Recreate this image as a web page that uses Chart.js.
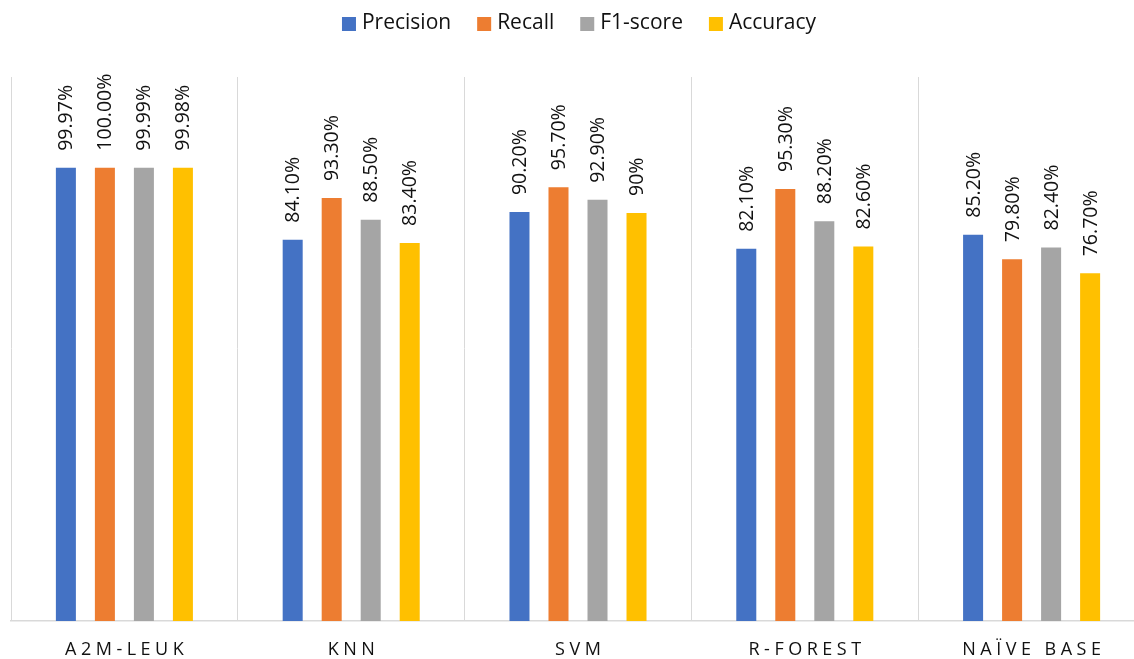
<!DOCTYPE html>
<html>
<head>
<meta charset="utf-8">
<script src="https://cdn.jsdelivr.net/npm/chart.js@4.4.1/dist/chart.umd.min.js"></script>
<style>
  html, body { margin: 0; padding: 0; background: #fff; overflow: hidden; }
  #wrap { position: relative; width: 1146px; height: 659px; }
</style>
</head>
<body>
<div id="wrap"><canvas id="c"></canvas></div>
<script>
// Model comparison: four metrics per classifier, in percent
const models = ['A2M-LEUK', 'KNN', 'SVM', 'R-FOREST', 'NAÏVE BASE'];
const precision = ['99.97', '84.10', '90.20', '82.10', '85.20'];
const recall    = ['100.00', '93.30', '95.70', '95.30', '79.80'];
const f1score   = ['99.99', '88.50', '92.90', '88.20', '82.40'];
const accuracy  = ['99.98', '83.40', '90', '82.60', '76.70'];
const seriesNames  = ['Precision', 'Recall', 'F1-score', 'Accuracy'];
const seriesColors = ['#4472C4', '#ED7D31', '#A5A5A5', '#FFC000'];
const axisMax = 120;

const FONT = '"Open Sans", "Liberation Sans", sans-serif';
const TEXT = '#111111';

// Rotated value labels above each bar
const valueLabels = {
  id: 'valueLabels',
  afterDatasetsDraw(chart) {
    const ctx = chart.ctx;
    ctx.save();
    ctx.font = '19.5px ' + FONT;
    ctx.fillStyle = TEXT;
    ctx.textAlign = 'left';
    ctx.textBaseline = 'middle';
    chart.data.datasets.forEach((ds, i) => {
      chart.getDatasetMeta(i).data.forEach((bar, j) => {
        ctx.save();
        ctx.translate(bar.x + 1, bar.y - 17);
        ctx.rotate(-Math.PI / 2);
        ctx.fillText(ds.data[j] + '%', 0, 0);
        ctx.restore();
      });
    });
    ctx.restore();
  }
};

// Letter-spaced category names under the axis
const categoryLabels = {
  id: 'categoryLabels',
  afterDraw(chart) {
    const ctx = chart.ctx;
    const xs = chart.scales.x;
    const spacing = 4.5;
    ctx.save();
    ctx.font = '18px ' + FONT;
    ctx.fillStyle = TEXT;
    ctx.textAlign = 'left';
    ctx.textBaseline = 'middle';
    ctx.letterSpacing = spacing + 'px';
    chart.data.labels.forEach((lab, i) => {
      const w = ctx.measureText(lab).width - spacing;
      ctx.fillText(lab, xs.getPixelForValue(i) - w / 2, chart.chartArea.bottom + 29);
    });
    ctx.restore();
  }
};

// Centered legend row across the top
const topLegend = {
  id: 'topLegend',
  afterDraw(chart) {
    const ctx = chart.ctx;
    const box = 14, textGap = 6, itemGap = 26;
    ctx.save();
    ctx.font = '21px ' + FONT;
    ctx.textAlign = 'left';
    ctx.textBaseline = 'middle';
    const items = chart.data.datasets.map(ds => ({
      label: ds.label, color: ds.backgroundColor,
      w: box + textGap + ctx.measureText(ds.label).width
    }));
    const total = items.reduce((s, it) => s + it.w, 0) + itemGap * (items.length - 1);
    let x = (chart.chartArea.left + chart.chartArea.right) / 2 - total / 2 + 1;
    const cy = 23;
    items.forEach(it => {
      ctx.fillStyle = it.color;
      ctx.fillRect(x, cy - box / 2 + 1, box, box);
      ctx.fillStyle = TEXT;
      ctx.fillText(it.label, x + box + textGap, cy);
      x += it.w + itemGap;
    });
    ctx.restore();
  }
};

const seriesData = [precision, recall, f1score, accuracy];

new Chart(document.getElementById('c'), {
  type: 'bar',
  data: {
    labels: models,
    datasets: seriesNames.map((name, i) => ({
      label: name,
      data: seriesData[i],
      backgroundColor: seriesColors[i],
      borderWidth: 0,
      categoryPercentage: 0.688,
      barPercentage: 0.513
    }))
  },
  options: {
    responsive: true,
    maintainAspectRatio: false,
    animation: false,
    layout: { padding: { left: 11, right: 1, top: 77, bottom: 38 } },
    plugins: {
      legend: { display: false },
      tooltip: { enabled: false }
    },
    scales: {
      x: {
        grid: { color: '#D9D9D9', lineWidth: 1, drawTicks: false, offset: true },
        border: { color: '#D9D9D9', width: 1.5 },
        ticks: { display: false }
      },
      y: {
        display: false,
        min: 0,
        max: axisMax
      }
    }
  },
  plugins: [valueLabels, categoryLabels, topLegend]
});
</script>
</body>
</html>
